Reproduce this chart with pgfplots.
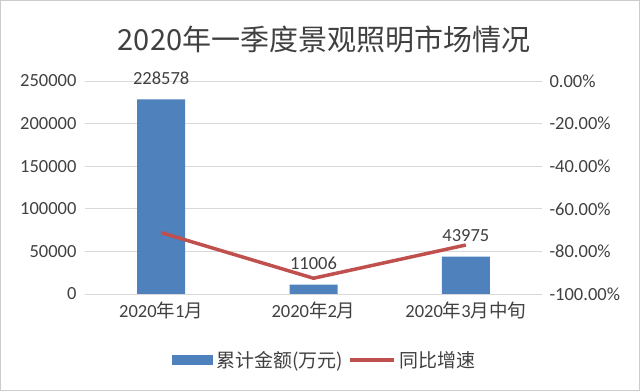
\documentclass[border=0pt]{standalone}
\usepackage{pgfplots}
\pgfplotsset{compat=1.18}
\usepackage{fontspec}
\setmainfont{Carlito}
\newfontfamily\cjk{Noto Sans CJK SC}
\definecolor{barblue}{HTML}{4F81BD}
\definecolor{linered}{HTML}{C0504D}
\definecolor{txtgray}{HTML}{404040}
\definecolor{gridgray}{HTML}{D9D9D9}
\begin{document}
\begin{tikzpicture}[x=1pt,y=1pt]
\path (0,0) rectangle (640,391);
\draw[gray!40, line width=1pt] (0.5,0.5) rectangle (639.5,390.5);
\node[font=\cjk\fontsize{29}{32}\selectfont, text=txtgray] at (324,352) {2020年一季度景观照明市场情况};
\begin{axis}[
  at={(85pt,97pt)}, anchor=south west,
  scale only axis, width=457pt, height=213pt,
  xmin=-0.5, xmax=2.5, ymin=0, ymax=250000,
  ytick={0,50000,100000,150000,200000,250000},
  yticklabels={0,50000,100000,150000,200000,250000},
  xtick={0,1,2},
  xticklabels={2020{\cjk 年}1{\cjk 月},2020{\cjk 年}2{\cjk 月},2020{\cjk 年}3{\cjk 月中旬}},
  scaled y ticks=false,
  tick style={draw=none},
  axis y line*=left, axis x line*=bottom,
  y axis line style={draw=none},
  x axis line style={draw=gridgray, line width=0.8pt, -},
  ymajorgrids, grid style={gridgray, line width=0.8pt},
  ticklabel style={font=\fontsize{18.5}{21}\selectfont, text=txtgray},
  yticklabel style={xshift=-5pt},
  xticklabel style={yshift=-4pt},
  clip=false,
]
\addplot[ybar, bar width=48pt, fill=barblue, draw=none,
  point meta=explicit symbolic,
  nodes near coords, nodes near coords style={font=\fontsize{18.5}{21}\selectfont, text=txtgray, yshift=11pt}]
  coordinates {(0,228578) [228578] (1,11006) [11006] (2,43975) [43975]};
\end{axis}
\begin{axis}[
  at={(85pt,97pt)}, anchor=south west,
  scale only axis, width=457pt, height=213pt,
  xmin=-0.5, xmax=2.5, ymin=-100, ymax=0,
  axis y line*=right, axis x line=none,
  y axis line style={draw=none},
  ytick={-100,-80,-60,-40,-20,0},
  yticklabels={-100.00\%,-80.00\%,-60.00\%,-40.00\%,-20.00\%,0.00\%},
  tick style={draw=none},
  ticklabel style={font=\fontsize{18.5}{21}\selectfont, text=txtgray},
  yticklabel style={xshift=4pt},
  legend style={at={(0.525,-0.31)}, anchor=center, draw=none, fill=none,
    legend columns=2, font=\cjk\fontsize{19}{22}\selectfont, text=txtgray,
    /tikz/every even column/.append style={column sep=3pt},
    /tikz/every odd column/.append style={column sep=2pt}},
  clip=false,
]
\addlegendimage{legend image code/.code={\fill[barblue] (0pt,-4.5pt) rectangle (40pt,4.5pt);}}
\addlegendentry{累计金额(万元)}
\addplot[linered, line width=3.5pt, mark=none, legend image code/.code={\draw[linered, line width=3.5pt] (0pt,0pt) -- (44pt,0pt);}]
  coordinates {(0,-71.2) (1,-92.6) (2,-77)};
\addlegendentry{同比增速}
\end{axis}
\end{tikzpicture}
\end{document}
